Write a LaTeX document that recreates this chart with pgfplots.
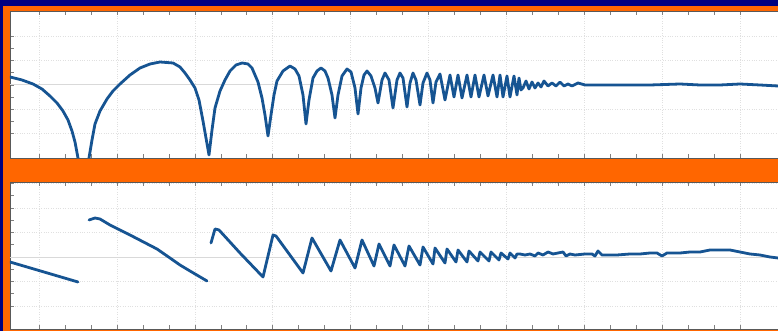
\documentclass[border=0pt]{standalone}
\usepackage{pgfplots}
\pgfplotsset{compat=1.18}
\definecolor{navy}{RGB}{0,0,128}
\definecolor{orng}{RGB}{255,102,0}
\definecolor{curve}{RGB}{22,84,146}
\pgfplotsset{
  panel/.style={
    scale only axis, width=780pt, height=147pt,
    anchor=south west, xmin=10, xmax=790,
    axis background/.style={fill=white},
    xtick={39,116.9,194.8,272.7,350.6,428.5,506.4,584.3,662.2,740.1},
    minor x tick num=2, minor y tick num=1,
    xticklabels={}, yticklabels={},
    tick align=inside, major tick length=4pt, minor tick length=4pt,
    every tick/.style={black!50, line width=0.5pt},
    grid=major, major grid style={black!12, dotted, line width=0.6pt},
    axis line style={black!65, line width=0.8pt},
    extra y tick style={grid=major, major grid style={black!15, solid, line width=0.8pt}, tick style={draw=none}},
    extra y tick labels={},
  },
  sig/.style={curve, line width=2.8pt, line join=round, line cap=round, no marks},
}
\begin{document}
\begin{tikzpicture}[x=1pt,y=1pt]
\useasboundingbox (0,0) rectangle (778,331);
\clip (0,0) rectangle (778,331);
\fill[navy] (0,0) rectangle (778,331);
\fill[orng] (3,0) rectangle (778,325);
% top panel: magnitude
\begin{axis}[panel, at={(10pt,173pt)}, ymin=0, ymax=147,
  ytick={24.4,48.8,73.2,97.6,122}, extra y ticks={73.2}]
\addplot[sig] table {
x y
10 81
22 78
33 74
42 69
50 62
57 55
63 47
68 38
72 27
75 16
78 0
83.5 -30
89 0
92 18
95 34
100 47
107 59
113 67
120 74
130 83
140 90
150 94
160 96
173 95
180 91
185 85
190 78
195 70
199 58
203 37
206 20
209 3
212 28
215 50
220 67
225 78
230 87
236 93
242 95
248 94
252 90
258 76
262 60
265 43
268 22
271 43
274 63
277 77
283 87
290 92
295 89
299 82
303 63
306 34
309 58
313 80
317 87
321 90
325 87
328 80
332 63
335 40
338 63
342 82
347 89
351 86
355 70
358 44
361 70
364 83
367 87
371 82
375 70
378 55
382 78
385 85
389 78
393 50
397 78
400 85
403 80
407 51
410 75
413 85
416 78
420 53
423 75
427 85
430 78
433 55
436 76
440 84
445 58
450 83
454 61
458 83
462 60
467 83
471 61
475 83
479 61
484 83
488 62
493 83
497 61
500 83
503 61
507 82
510 61
514 82
517 63
519 80
521 68
523 70
526 77
529 69
532 76
535 70
538 75
541 71
544 77
548 72
552 75
556 72
560 76
564 72
568 74
572 72
578 75
585 73
600 73
620 73
650 73
680 74
700 73
720 73
740 74
760 73
778 72
790 72
};
\end{axis}
% bottom panel: phase
\begin{axis}[panel, at={(10pt,2pt)}, ymin=-72, ymax=75,
  ytick={-49,-24.5,0,24.5,49,73.5}, extra y ticks={0}]
\addplot[sig] table {
x y
10 -5
44 -15
78 -25
};
\addplot[sig] table {
x y
89 37
95 39
100 38
110 32
130 22
157 8
170 -1
180 -8
190 -14
207 -24
};
\addplot[sig] table {
x y
211 14
215 28
219 27
240 4
263 -20
273 22
276 21
303 -16
312 19
331 -14
340 17
355 -11
362 17
374 -9
379 13
390 -9
394 12
405 -9
409 11
420 -8
423 10
433 -7
435 9
445 -6
447 8
456 -5
458 7
467 -5
469 6
478 -4
480 5
489 -4
491 5
499 -3
501 4
508 -2
510 4
515 -1
517 3
520 3
525 2
530 3
535 1
538 4
543 2
548 5
553 3
558 4
563 5
566 1
570 3
575 2
585 3
592 3
595 1
598 6
602 2
610 2
617 2
630 3
640 3
650 4
657 4
662 1
667 4
680 4
690 5
700 5
710 7
720 7
730 7
740 5
750 3
760 2
770 0
778 -1
790 -2
};
\end{axis}
\end{tikzpicture}
\end{document}
